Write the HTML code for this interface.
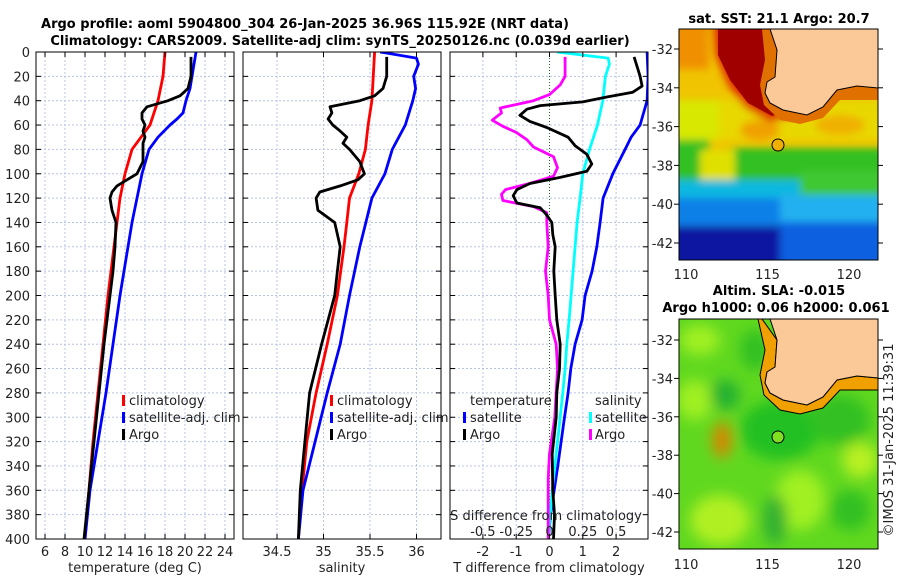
<!DOCTYPE html>
<html><head><meta charset="utf-8"><style>
body{margin:0;background:#fff;}
svg{display:block;font-family:"DejaVu Sans","Liberation Sans",sans-serif;}
.t{font-size:13px;fill:#222;}
.b{font-size:13px;font-weight:bold;fill:#000;}
.grid{stroke:#b8c4e4;stroke-width:1;stroke-dasharray:2,2;}
</style></head><body>
<svg id="chart" width="900" height="580" viewBox="0 0 900 580">
<defs>
<clipPath id="c1"><rect x="36" y="52" width="198" height="487"/></clipPath>
<clipPath id="c2"><rect x="243" y="52" width="198" height="487"/></clipPath>
<clipPath id="c3"><rect x="450" y="52" width="198" height="487"/></clipPath>
<clipPath id="m1"><rect x="679" y="29" width="199" height="231"/></clipPath>
<clipPath id="m2"><rect x="679" y="319" width="199" height="230"/></clipPath>
<filter id="bl" x="-50%" y="-50%" width="200%" height="200%"><feGaussianBlur stdDeviation="4"/></filter>
<filter id="bl2" x="-50%" y="-50%" width="200%" height="200%"><feGaussianBlur stdDeviation="7"/></filter>
</defs>
<text class="b" x="305" y="28" text-anchor="middle">Argo profile: aoml 5904800_304 26-Jan-2025 36.96S 115.92E (NRT data)</text>
<text class="b" x="340" y="45" text-anchor="middle">Climatology: CARS2009. Satellite-adj clim: synTS_20250126.nc (0.039d earlier)</text>
<g id="grids"></g>
<g id="lines"></g>
<g id="frames"></g>

<g>
<rect x="122" y="395" width="3" height="11" fill="#f00"/><text class="t" x="129" y="405">climatology</text>
<rect x="122" y="412" width="3" height="11" fill="#00f"/><text class="t" x="129" y="422">satellite-adj. clim</text>
<rect x="122" y="429" width="3" height="11" fill="#000"/><text class="t" x="129" y="439">Argo</text>
</g>
<g>
<rect x="330" y="395" width="3" height="11" fill="#f00"/><text class="t" x="337" y="405">climatology</text>
<rect x="330" y="412" width="3" height="11" fill="#00f"/><text class="t" x="337" y="422">satellite-adj. clim</text>
<rect x="330" y="429" width="3" height="11" fill="#000"/><text class="t" x="337" y="439">Argo</text>
</g>
<g>
<text class="t" x="470" y="405">temperature</text>
<rect x="463" y="412" width="3" height="11" fill="#00f"/><text class="t" x="470" y="422">satellite</text>
<rect x="463" y="429" width="3" height="11" fill="#000"/><text class="t" x="470" y="439">Argo</text>
<text class="t" x="595" y="405">salinity</text>
<rect x="589" y="412" width="3" height="11" fill="#0ff"/><text class="t" x="595" y="422">satellite</text>
<rect x="589" y="429" width="3" height="11" fill="#f0f"/><text class="t" x="595" y="439">Argo</text>
</g>
<text class="t" x="546" y="520" text-anchor="middle">S difference from climatology</text>
<text class="t" x="135" y="572" text-anchor="middle">temperature (deg C)</text>
<text class="t" x="342" y="572" text-anchor="middle">salinity</text>
<text class="t" x="549" y="572" text-anchor="middle">T difference from climatology</text>

<text class="b" x="779" y="23" text-anchor="middle">sat. SST: 21.1 Argo: 20.7</text>
<g clip-path="url(#m1)">
<rect x="679" y="29" width="199" height="231" fill="#f0c400"/>
<g filter="url(#bl)">
<rect x="670" y="20" width="39" height="49" fill="#f09000"/>
<rect x="700" y="100" width="190" height="40" fill="#e8d800"/>
<rect x="670" y="100" width="49" height="40" fill="#d8e800"/>
<ellipse cx="760" cy="130" rx="20" ry="10" fill="#f0a000"/>
<ellipse cx="840" cy="125" rx="25" ry="10" fill="#f0b000"/>
<polygon points="712,10 770,10 775,80 790,118 770,122 745,108 728,85 715,55" fill="#e03000"/>
<rect x="670" y="140" width="39" height="40" fill="#30c020"/>
<rect x="730" y="148" width="160" height="35" fill="#30c020"/>
<rect x="700" y="150" width="35" height="35" fill="#e0e000"/>
<rect x="670" y="180" width="220" height="22" fill="#10b8e0"/>
<rect x="800" y="170" width="90" height="30" fill="#40c830"/>
<rect x="670" y="198" width="220" height="30" fill="#1080e8"/>
<rect x="780" y="195" width="110" height="30" fill="#20b0f0"/>
<rect x="670" y="226" width="119" height="45" fill="#0818a0"/>
<rect x="780" y="222" width="110" height="45" fill="#1060e0"/>
</g>
<polygon points="718,29 768,29 768,82 771,103 783,112 772,116 748,103 730,80 718,55" fill="#a00000"/>
<polygon points="770,29 777,50 775,77 767,82 765,93 770,103 783,110 807,115 823,107 837,90 857,86 878,88 878,100 840,100 823,118 800,124 780,120 764,105 760,85 765,60 762,29" fill="#e07000"/>
<polygon points="770,29 878,29 878,88 857,86 837,90 823,107 807,115 783,110 770,103 765,93 767,82 775,77 777,50" fill="#fbc898" stroke="#000" stroke-width="1"/>
<circle cx="778" cy="145" r="6" fill="#f0b000" stroke="#000" stroke-width="1"/>
</g>
<rect x="679" y="29" width="199" height="231" fill="none" stroke="#000"/>
<g id="map1axes" class="t"></g>

<text class="b" x="779" y="295" text-anchor="middle">Altim. SLA: -0.015</text>
<text class="b" x="776" y="312" text-anchor="middle">Argo h1000: 0.06 h2000: 0.061</text>
<g clip-path="url(#m2)">
<rect x="679" y="319" width="199" height="230" fill="#60d820"/>
<g filter="url(#bl2)">
<ellipse cx="700" cy="340" rx="20" ry="15" fill="#a0f020"/>
<ellipse cx="695" cy="400" rx="18" ry="20" fill="#a0f020"/>
<ellipse cx="755" cy="350" rx="15" ry="20" fill="#30c020"/>
<ellipse cx="725" cy="395" rx="15" ry="15" fill="#20b030"/>
<ellipse cx="780" cy="430" rx="40" ry="30" fill="#20c020"/>
<ellipse cx="840" cy="420" rx="30" ry="25" fill="#30c020"/>
<ellipse cx="722" cy="440" rx="9" ry="18" fill="#e08000"/>
<ellipse cx="720" cy="520" rx="30" ry="25" fill="#b0f020"/>
<ellipse cx="800" cy="500" rx="25" ry="30" fill="#a0f020"/>
<ellipse cx="850" cy="510" rx="20" ry="20" fill="#30c020"/>
<ellipse cx="860" cy="460" rx="18" ry="18" fill="#b8f020"/>
<ellipse cx="775" cy="520" rx="12" ry="25" fill="#30b030"/>
</g>
<polygon points="762,319 777,340 775,367 767,372 765,383 770,393 783,400 807,405 823,397 837,380 857,376 878,378 878,390 840,390 823,408 800,414 780,410 764,395 760,375 765,350 758,319" fill="#f0a000" stroke="#000" stroke-width="1"/>
<polygon points="770,319 878,319 878,378 857,376 837,380 823,397 807,405 783,400 770,393 765,383 767,372 775,367 777,340" fill="#fbc898" stroke="#000" stroke-width="1"/>
<circle cx="778" cy="437" r="6" fill="#80e020" stroke="#000" stroke-width="1"/>
</g>
<rect x="679" y="319" width="199" height="230" fill="none" stroke="#000"/>
<g id="map2axes" class="t"></g>
<text class="t" x="0" y="0" transform="translate(893,440) rotate(-90)" text-anchor="middle">©IMOS 31-Jan-2025 11:39:31</text>
</svg>
<script>
const depthTicks = [0,20,40,60,80,100,120,140,160,180,200,220,240,260,280,300,320,340,360,380,400];
const tempTicks = [6,8,10,12,14,16,18,20,22,24];
const salTicks = [34.5,35,35.5,36];
const salTickLabels = ["34.5","35","35.5","36"];
const tdiffTicks = [-2,-1,0,1,2];
const sdiffTicks = [-0.5,-0.25,0,0.25,0.5];
const sdiffTickLabels = ["-0.5","-0.25","0","0.25","0.5"];
const climTDepth = [0,20,40,60,80,100,120,160,200,240,280,320,360,400];
const climT = [18.0,17.8,17.3,16.5,14.7,14.0,13.5,12.9,12.3,11.8,11.3,10.8,10.4,10.0];
const satTDepth = [0,20,30,40,50,55,60,70,80,100,120,140,160,200,240,280,320,360,400];
const satT = [21.1,20.7,20.5,20.1,19.8,19.2,18.5,17.3,16.4,15.7,15.2,14.7,14.3,13.5,12.8,12.1,11.3,10.5,10.0];
const argoDepth = [4,20,30,36,40,45,50,55,60,65,70,75,80,90,100,105,110,115,120,130,140,160,180,200,240,280,320,360,400];
const argoT = [20.6,20.6,20.3,19.5,18.3,16.2,15.7,15.7,16.0,15.8,16.0,15.8,15.8,15.8,15.2,14.2,13.2,12.7,12.5,12.7,13.1,13.0,12.8,12.5,11.9,11.4,10.9,10.4,9.9];
const climSDepth = [0,40,60,80,100,120,140,160,200,240,280,320,360,400];
const climS = [35.55,35.52,35.48,35.45,35.38,35.28,35.25,35.22,35.15,35.04,34.92,34.82,34.77,34.73];
const satSDepth = [0,5,10,20,30,40,60,80,100,120,160,200,240,280,320,360,400];
const satS = [35.61,36.0,36.02,35.97,35.99,35.96,35.88,35.74,35.66,35.52,35.39,35.28,35.18,35.04,34.91,34.78,34.73];
const argoS = [35.68,35.68,35.64,35.55,35.39,35.07,35.09,35.05,35.1,35.18,35.25,35.21,35.28,35.39,35.44,35.37,35.18,34.96,34.92,34.94,35.12,35.18,35.15,35.12,34.98,34.85,34.8,34.75,34.73];
const satDTDepth = [0,20,40,60,70,80,100,120,140,160,180,200,220,240,260,280,300,340,380,400];
const satDT = [2.93,2.96,2.93,2.72,2.45,2.27,1.9,1.61,1.52,1.42,1.28,1.07,0.98,0.77,0.64,0.56,0.45,0.25,0.03,-0.03];
const argoDTDepth = [4,20,28,33,37,41,44,47,52,57,62,70,77,84,92,98,103,108,113,118,124,128,134,140,150,160,180,200,220,240,260,280,300,330,360,380,400];
const argoDT = [2.54,2.72,2.78,2.5,1.72,1.0,-0.28,-0.68,-0.89,-0.59,-0.08,0.56,0.77,1.12,1.27,1.12,0.32,-0.59,-0.98,-1.09,-0.98,-0.28,-0.08,0.07,0.1,0.17,0.13,0.17,0.22,0.32,0.3,0.22,0.2,0.08,0.1,0.15,0.12];
const satDSDepth = [0,5,10,20,40,60,80,100,120,140,180,220,240,260,280,320,360,400];
const satDS = [0.056,0.44,0.45,0.42,0.40,0.36,0.30,0.25,0.23,0.207,0.177,0.147,0.13,0.117,0.10,0.06,0.02,-0.01];
const argoDSDepth = [4,20,27,35,40,46,50,56,61,66,72,78,86,95,102,108,113,117,122,127,132,140,160,180,200,220,240,260,300,330,350,380,400];
const argoDS = [0.117,0.117,0.08,0.0,-0.12,-0.37,-0.36,-0.43,-0.35,-0.25,-0.17,-0.12,0.03,0.06,0.03,-0.15,-0.33,-0.36,-0.35,-0.12,-0.02,-0.02,-0.01,-0.03,-0.01,0.0,0.05,0.06,0.04,0.0,-0.01,-0.01,-0.01];
const latTicks = [-32,-34,-36,-38,-40,-42];
const lonTicks = [110,115,120];

const NS='http://www.w3.org/2000/svg';
const yD = d => 52 + d*1.2175;
const xT = t => 45 + (t-6)*10;
const xS = s => 323.5 + (s-35)*93;
const xDT = v => 549.5 + v*33.3;
const xDS = s => 549.5 + s*133.2;
function mk(tag, attrs, parent){const e=document.createElementNS(NS,tag);for(const k in attrs)e.setAttribute(k,attrs[k]);parent.appendChild(e);return e;}
const grids=document.getElementById('grids'), lines=document.getElementById('lines'), frames=document.getElementById('frames');
const panels=[{x0:36,clip:'c1'},{x0:243,clip:'c2'},{x0:450,clip:'c3'}];
panels.forEach((p,i)=>{
  depthTicks.forEach(d=>{
    const y=yD(d);
    if(d>0&&d<400){const g=mk('line',{x1:p.x0,x2:p.x0+198,y1:y,y2:y,class:'grid'},grids);
    
    }
    mk('line',{x1:p.x0,x2:p.x0+5,y1:y,y2:y,stroke:'#000'},frames);
    mk('line',{x1:p.x0+193,x2:p.x0+198,y1:y,y2:y,stroke:'#000'},frames);
  });
  const r=mk('rect',{x:p.x0,y:52,width:198,height:487,fill:'none',stroke:'#000'},frames);
  
  
});
depthTicks.forEach(d=>{
  const t=mk('text',{x:30,y:yD(d)+5,'text-anchor':'end',class:'t'},frames);
  t.textContent=d;
  
  
});
function vgrid(xs,labels,fx,ly,dotZero){
  xs.forEach((v,i)=>{
    const x=fx(v);
    const g=mk('line',{x1:x,x2:x,y1:52,y2:539,class:'grid'},grids);
    if(dotZero&&v===0){g.setAttribute('class','');g.setAttribute('stroke','#2a6a2a');g.setAttribute('stroke-dasharray','1,2');}
    
    
    mk('line',{x1:x,x2:x,y1:534,y2:539,stroke:'#000'},frames);
    mk('line',{x1:x,x2:x,y1:52,y2:57,stroke:'#000'},frames);
    const t=mk('text',{x:x,y:ly,'text-anchor':'middle',class:'t'},frames);
    t.textContent=labels[i];
    
    
  });
}
vgrid(tempTicks,tempTicks.map(String),xT,556,false);
vgrid(salTicks,salTickLabels,xS,556,false);
vgrid(tdiffTicks,tdiffTicks.map(String),xDT,556,true);
sdiffTicks.forEach((v,i)=>{
  const t=mk('text',{x:xDS(v),y:536,'text-anchor':'middle',class:'t'},frames);
  t.textContent=sdiffTickLabels[i];
  
  
});
function series(depths,vals,fx,color,clip,name){
  const g=mk('g',{'clip-path':'url(#'+clip+')'},lines);
  const pts=depths.map((d,i)=>fx(vals[i]).toFixed(1)+','+yD(d).toFixed(1)).join(' ');
  const pl=mk('polyline',{points:pts,fill:'none',stroke:color,'stroke-width':2.8,'stroke-linejoin':'round'},g);
  
  
}
series(climTDepth,climT,xT,'#f00','c1','climatology-temperature-line');
series(satTDepth,satT,xT,'#00f','c1','satellite-temperature-line');
series(argoDepth,argoT,xT,'#000','c1','argo-temperature-line');
series(climSDepth,climS,xS,'#f00','c2','climatology-salinity-line');
series(satSDepth,satS,xS,'#00f','c2','satellite-salinity-line');
series(argoDepth,argoS,xS,'#000','c2','argo-salinity-line');
series(satDTDepth,satDT,xDT,'#00f','c3','satellite-t-diff-line');
series(satDSDepth,satDS,xDS,'#0ff','c3','satellite-s-diff-line');
series(argoDSDepth,argoDS,xDS,'#f0f','c3','argo-s-diff-line');
series(argoDTDepth,argoDT,xDT,'#000','c3','argo-t-diff-line');
function mapAxes(id,yTop,yBot,yLonLab){
  const g=document.getElementById(id);
  const yLat=v=>yTop+(-32-v)/10*(yBot-yTop);
  const xLon=v=>686+(v-110)*16.3;
  latTicks.forEach(v=>{
    const y=yLat(v);
    mk('line',{x1:878,x2:883,y1:y,y2:y,stroke:'#000'},g);
    mk('line',{x1:674,x2:679,y1:y,y2:y,stroke:'#000'},g);
    const t=mk('text',{x:673,y:y+5,'text-anchor':'end'},g);
    t.textContent=v;
    
    
  });
  lonTicks.forEach(v=>{
    const x=xLon(v);
    const t=mk('text',{x:x,y:yLonLab,'text-anchor':'middle'},g);
    t.textContent=v;
    
    
  });
}
mapAxes('map1axes',49,243,279);
mapAxes('map2axes',340,532,569);
</script>
</body></html>
